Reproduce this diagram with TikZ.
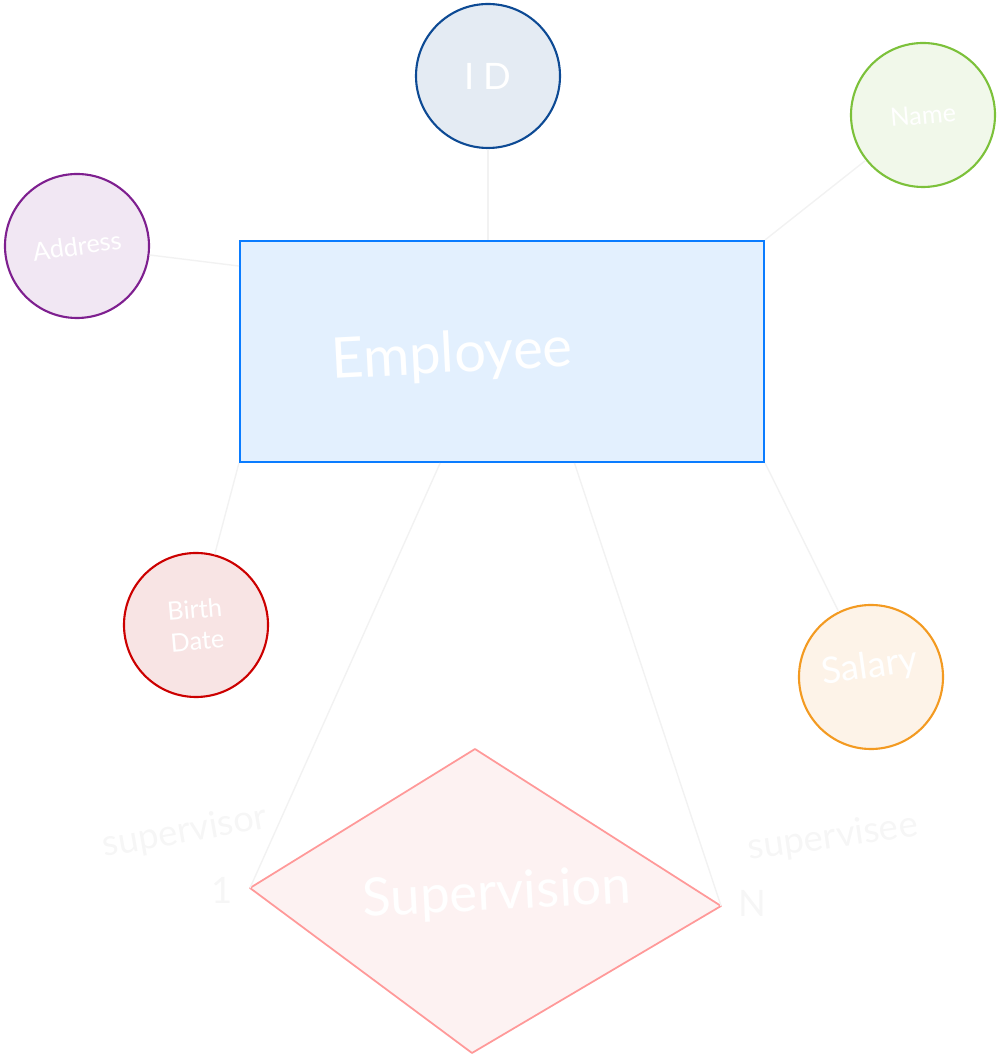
\documentclass[tikz,border=0pt]{standalone}
\usepackage{fontspec}
\setmainfont{Lato}
\definecolor{idline}{HTML}{0D4A94}
\definecolor{idfill}{HTML}{E4EBF3}
\definecolor{nameline}{HTML}{7CC13A}
\definecolor{namefill}{HTML}{F1F8EA}
\definecolor{addrline}{HTML}{7E1F8F}
\definecolor{addrfill}{HTML}{F1E7F3}
\definecolor{empline}{HTML}{0A7CFF}
\definecolor{empfill}{HTML}{E3F0FE}
\definecolor{bdline}{HTML}{CC0000}
\definecolor{bdfill}{HTML}{F8E4E4}
\definecolor{salline}{HTML}{F39A21}
\definecolor{salfill}{HTML}{FDF3E8}
\definecolor{supline}{HTML}{FF9999}
\definecolor{supfill}{HTML}{FDF2F2}
\definecolor{faint}{HTML}{F2F2F2}
\definecolor{faintext}{HTML}{F6F6F6}
\begin{document}
\begin{tikzpicture}[
    attr/.style={circle, draw, line width=1.2pt, minimum size=2.88cm, inner sep=0pt,
      text=white, font=\Large},
    link/.style={draw=faint, line width=0.8pt},
    role/.style={text=faintext, font=\huge, inner sep=0.5pt}
  ]
  \useasboundingbox (0,0) rectangle (20,21.1);
  \node[attr, draw=idline, fill=idfill, font=\huge] (id) at (9.76,19.58) {I D};
  \node[attr, draw=nameline, fill=namefill, rotate=5] (name) at (18.46,18.80) {Name\hspace{0.5cm}};
  \node[attr, draw=addrline, fill=addrfill, rotate=8] (address) at (1.54,16.18) {Address};
  \node[attr, draw=bdline, fill=bdfill, align=center, rotate=5] (birth) at (3.92,8.60) {Birth\\Date};
  \node[attr, draw=salline, fill=salfill, font=\huge, rotate=8] (salary) at (17.42,7.56) {\raisebox{0.5cm}{Salary}};
  \node[draw=empline, fill=empfill, line width=1.2pt, minimum width=10.48cm, minimum height=4.42cm,
    label={[xshift=-1cm, yshift=-0.1cm, rotate=3, text=white, font=\fontsize{32}{36}\selectfont]center:Employee}]
    (emp) at (10.04,14.07) {};
  % relationship
  \coordinate (supW) at (5.00,3.34);
  \coordinate (supN) at (9.50,6.12);
  \coordinate (supE) at (14.42,2.98);
  \coordinate (supS) at (9.44,0.04);
  \draw[draw=supline, fill=supfill, line width=1pt, line join=round] (supW) -- (supN) -- (supE) -- (supS) -- cycle;
  \node[text=white, font=\fontsize{30}{34}\selectfont, rotate=3] (sup) at (9.94,3.20) {Supervision};
  % connectors
  \begin{scope}[link]
    \draw (id.south) -- (id.south |- emp.north);
    \draw (name) -- (emp.north east);
    \draw (address) -- (emp.162);
    \draw (birth) -- (emp.south west);
    \draw (salary) -- (emp.south east);
    \draw (supW) -- (emp.-119);
    \draw (supE) -- (emp.-57);
  \end{scope}
  \node[role, rotate=10] (supervisor) at (3.70,4.45) {supervisor};
  \node[role] (one) at (4.44,3.30) {1};
  \node[role, rotate=8] (supervisee) at (16.66,4.34) {supervisee};
  \node[role] (many) at (15.04,3.04) {N};
\end{tikzpicture}
\end{document}
